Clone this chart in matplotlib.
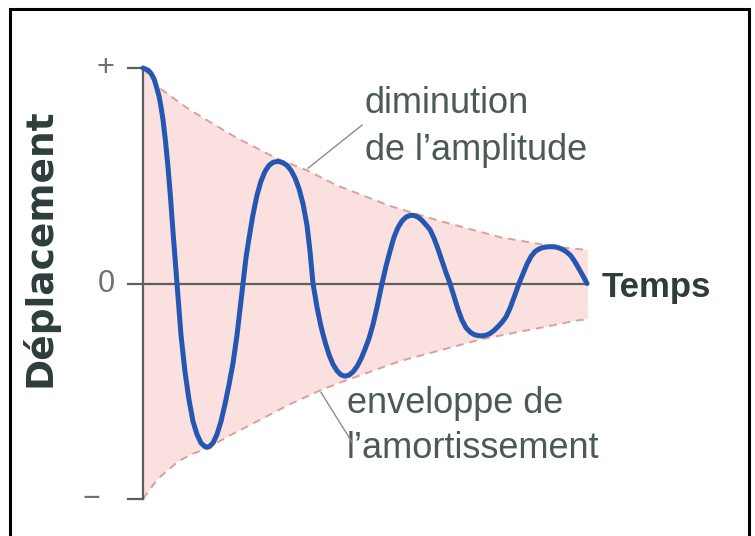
import matplotlib.pyplot as plt
import numpy as np
from matplotlib.patches import Rectangle

# courbe (temps en px depuis l'axe, deplacement de -1 a +1)
temps = [0, 5, 8, 11, 13, 16, 18, 20, 22.5, 25, 27.5, 30, 32, 34, 38, 42,
         46, 50, 54, 58, 62, 64, 66, 70, 74, 78,
         82, 86, 90, 94, 97, 100, 103, 106, 110, 114,
         118, 122, 126, 130, 135, 140, 144, 148, 152, 156,
         160, 164, 167, 170, 174, 178, 182, 186, 190, 194,
         198, 202, 206, 210, 214, 218, 222, 226, 230, 234,
         239, 243, 247, 251, 255, 259, 263, 267, 271, 275,
         279, 283, 287, 291, 295, 299, 303, 307, 311, 315,
         319, 323, 327, 331, 335, 339, 343, 347, 351, 355,
         359, 363, 367, 371, 376, 380, 384, 388, 392, 396,
         400, 404, 408, 412, 416, 420, 424, 428, 432, 436,
         440, 444]
deplacement = [1.0, 0.99, 0.975, 0.95, 0.92, 0.87, 0.82, 0.76, 0.66, 0.54, 0.40, 0.24, 0.12, 0.0, -0.24, -0.41,
               -0.54, -0.64, -0.70, -0.74, -0.757, -0.76, -0.758, -0.74, -0.70, -0.64,
               -0.56, -0.47, -0.37, -0.24, -0.12, 0.0, 0.12, 0.21, 0.32, 0.41,
               0.475, 0.52, 0.548, 0.562, 0.567, 0.56, 0.548, 0.525, 0.49, 0.44,
               0.37, 0.27, 0.15, 0.0, -0.11, -0.2, -0.27, -0.33, -0.375, -0.405,
               -0.424, -0.43, -0.425, -0.41, -0.385, -0.35, -0.305, -0.255, -0.19, -0.11,
               0.0, 0.08, 0.15, 0.215, 0.26, 0.29, 0.308, 0.316, 0.316, 0.308,
               0.293, 0.272, 0.25, 0.21, 0.16, 0.105, 0.05, 0.0, -0.06, -0.12,
               -0.17, -0.205, -0.225, -0.237, -0.242, -0.243, -0.24, -0.232, -0.218, -0.2,
               -0.18, -0.155, -0.115, -0.065, 0.0, 0.045, 0.09, 0.125, 0.148, 0.16,
               0.167, 0.17, 0.171, 0.17, 0.165, 0.157, 0.145, 0.128, 0.1, 0.068,
               0.035, 0.0]

# enveloppes
env_haut_t = [0, 17, 47, 92, 134, 164, 194, 247, 297, 357, 410, 445]
env_haut = [1.0, 0.905, 0.805, 0.68, 0.58, 0.525, 0.455, 0.36, 0.29, 0.215, 0.172, 0.155]
env_bas_t = [0, 14, 34, 47, 64, 87, 114, 147, 180, 204, 257, 339, 434, 445]
env_bas = [-1.0, -0.91, -0.83, -0.795, -0.765, -0.705, -0.64, -0.56, -0.49, -0.448, -0.36, -0.258, -0.172, -0.165]

graduations = ['+', '0', '\u2212']

fig = plt.figure(figsize=(7.55, 5.36), dpi=100)
fig.patch.set_facecolor('white')
ax = fig.add_axes([143 / 755, 37 / 536, 445 / 755, 431 / 536])
ax.set_xlim(0, 445)
ax.set_ylim(-1, 1)
ax.axis('off')

# zone rose entre les enveloppes
ax.fill(np.concatenate([env_haut_t, env_bas_t[::-1]]),
        np.concatenate([env_haut, env_bas[::-1]]),
        color='#fae0df', lw=0, zorder=1)
ax.plot(env_haut_t, env_haut, ls=(0, (4, 3)), color='#d9a0a0', lw=1.4, zorder=2)
ax.plot(env_bas_t, env_bas, ls=(0, (4, 3)), color='#d9a0a0', lw=1.4, zorder=2)

# axes dessines a la main
gris = '#5e5e5e'
ax.plot([-15, 445], [0, 0], color=gris, lw=1.6, clip_on=False, zorder=3)
ax.plot([0, 0], [-1, 1], color=gris, lw=1.6, clip_on=False, zorder=3)
ax.plot([-15, 0], [1, 1], color=gris, lw=1.6, clip_on=False, zorder=3)
ax.plot([-15, 0], [-1, -1], color=gris, lw=1.6, clip_on=False, zorder=3)

ax.plot(temps, deplacement, color='#2456b2', lw=3.6, solid_joinstyle='round',
        solid_capstyle='round', clip_on=False, zorder=4)

# graduations + 0 -
ax.text(-38, 1.0, graduations[0], fontsize=22, color='#707070', ha='center', va='center',
        family='Liberation Sans')
ax.text(-37, 0.0, graduations[1], fontsize=22, color='#707070', ha='center', va='center',
        family='Liberation Sans')
ax.text(-52, -1.0, graduations[2], fontsize=22, color='#707070', ha='center', va='center',
        family='Liberation Sans')

txt = '#4b5958'
ax.text(222, 0.79, 'diminution', fontsize=26, color=txt, family='Liberation Sans', va='baseline')
ax.text(222, 0.572, 'de l\u2019amplitude', fontsize=26, color=txt, family='Liberation Sans', va='baseline')
ax.text(204, -0.603, 'enveloppe de', fontsize=26, color=txt, family='Liberation Sans', va='baseline')
ax.text(204, -0.812, 'l\u2019amortissement', fontsize=26, color=txt, family='Liberation Sans', va='baseline')
ax.plot([165, 219], [0.535, 0.735], color='#8c8c8c', lw=1, zorder=3)
ax.plot([178, 209], [-0.505, -0.736], color='#8c8c8c', lw=1, zorder=3)

ax.text(459, -0.0635, 'Temps', fontsize=25, fontweight='bold', color='#2c3d3c',
        family='Liberation Sans', va='baseline')
ax.text(-103, 0.167, 'D\u00e9placement', fontsize=27, fontweight='bold', color='#2c3d3c',
        family='DejaVu Sans', rotation=90, ha='center', va='center')

# cadre noir
fig.patches.append(Rectangle((10 / 755, -0.02), 739 / 755, 1.0 - 9 / 536 + 0.02,
                             transform=fig.transFigure, fill=False, ec='black', lw=2.2))

fig.savefig('out.png', dpi=100)
